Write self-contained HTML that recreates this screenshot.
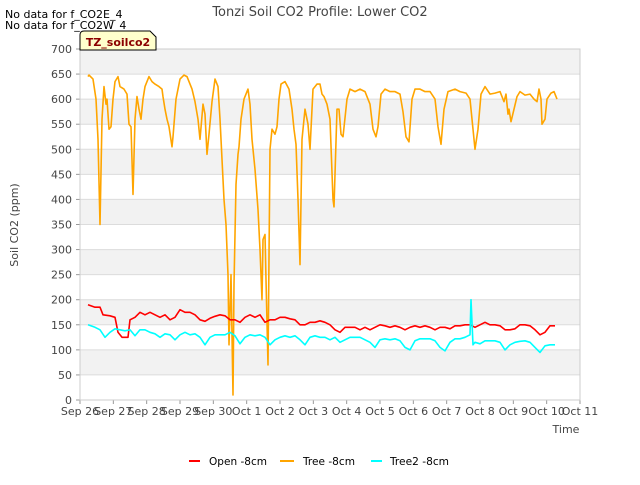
<!DOCTYPE html>
<html><head><meta charset="utf-8"><style>
body{margin:0;background:#fff;font-family:"Liberation Sans","DejaVu Sans",sans-serif}
svg text{font-family:"DejaVu Sans","Liberation Sans",sans-serif}
</style></head><body>
<svg id="c" width="640" height="480" xmlns="http://www.w3.org/2000/svg">
<text x="320" y="16" text-anchor="middle" font-size="13" fill="#444">Tonzi Soil CO2 Profile: Lower CO2</text>
<text x="5" y="18" font-size="11" fill="#000">No data for f_CO2E_4</text>
<text x="5" y="29" font-size="11" fill="#000">No data for f_CO2W_4</text>
<g id="plot"></g>
<g><path d="M80,50 L80,35 Q80,31 84,31 L150,31 L156,37 L156,50 Z" fill="#ffffcc" stroke="#000" stroke-width="1"/><text x="118" y="46" text-anchor="middle" font-size="11" font-weight="bold" fill="#8b0000">TZ_soilco2</text></g>
<text x="18" y="225" transform="rotate(-90 18 225)" text-anchor="middle" font-size="11" fill="#444">Soil CO2 (ppm)</text>
<text x="566" y="433" text-anchor="middle" font-size="11" fill="#444">Time</text>
<g>
<g><line x1="189" y1="461" x2="200" y2="461" stroke="#ff0000" stroke-width="2"/><text x="209" y="465" font-size="11" fill="#000" textLength="58" lengthAdjust="spacingAndGlyphs">Open -8cm</text></g>
<g><line x1="280" y1="461" x2="294" y2="461" stroke="#ffa500" stroke-width="2"/><text x="303" y="465" font-size="11" fill="#000" textLength="52" lengthAdjust="spacingAndGlyphs">Tree -8cm</text></g>
<g><line x1="371" y1="461" x2="382" y2="461" stroke="#00ffff" stroke-width="2"/><text x="390" y="465" font-size="11" fill="#000" textLength="59" lengthAdjust="spacingAndGlyphs">Tree2 -8cm</text></g>
</g>
</svg>
<script>
const xTickLabels=["Sep 26","Sep 27","Sep 28","Sep 29","Sep 30","Oct 1","Oct 2","Oct 3","Oct 4","Oct 5","Oct 6","Oct 7","Oct 8","Oct 9","Oct 10","Oct 11"];
const yTicks=[0,50,100,150,200,250,300,350,400,450,500,550,600,650,700];
const treeData=[[0.24,645],[0.27,648],[0.39,640],[0.48,600],[0.54,520],[0.60,350],[0.66,560],[0.72,625],[0.78,590],[0.81,600],[0.87,540],[0.93,545],[0.99,600],[1.05,635],[1.14,645],[1.2,625],[1.32,620],[1.41,610],[1.47,550],[1.53,545],[1.59,410],[1.65,560],[1.71,605],[1.77,580],[1.83,560],[1.89,600],[1.95,625],[2.07,645],[2.16,635],[2.25,630],[2.37,625],[2.46,620],[2.49,605],[2.55,580],[2.61,560],[2.67,545],[2.76,505],[2.79,525],[2.88,600],[3.0,640],[3.12,648],[3.21,645],[3.3,630],[3.36,620],[3.45,595],[3.54,560],[3.6,520],[3.69,590],[3.75,570],[3.81,490],[3.87,530],[3.96,595],[4.05,640],[4.14,625],[4.2,560],[4.26,480],[4.32,400],[4.38,350],[4.44,250],[4.47,110],[4.53,250],[4.59,10],[4.62,230],[4.68,430],[4.74,490],[4.77,505],[4.83,560],[4.92,600],[5.04,620],[5.1,590],[5.16,520],[5.25,460],[5.34,380],[5.4,300],[5.46,200],[5.49,320],[5.55,330],[5.58,240],[5.64,70],[5.7,500],[5.76,540],[5.85,530],[5.91,545],[5.97,600],[6.03,630],[6.15,635],[6.27,620],[6.36,580],[6.42,540],[6.48,510],[6.54,400],[6.6,270],[6.66,520],[6.75,580],[6.84,550],[6.9,500],[6.99,620],[7.11,630],[7.2,630],[7.26,610],[7.32,605],[7.41,590],[7.5,560],[7.59,400],[7.62,385],[7.71,580],[7.77,580],[7.83,530],[7.89,525],[8.01,600],[8.1,620],[8.25,615],[8.4,620],[8.55,615],[8.7,590],[8.79,540],[8.88,525],[8.94,545],[9.03,610],[9.15,620],[9.3,615],[9.45,615],[9.6,610],[9.69,575],[9.78,525],[9.87,515],[9.96,600],[10.05,620],[10.2,620],[10.35,615],[10.5,615],[10.65,600],[10.74,545],[10.83,510],[10.92,580],[11.04,615],[11.25,620],[11.4,615],[11.58,612],[11.7,600],[11.79,540],[11.85,500],[11.94,540],[12.03,610],[12.15,625],[12.3,610],[12.45,612],[12.6,615],[12.72,595],[12.78,610],[12.84,570],[12.87,580],[12.93,555],[13.02,580],[13.11,605],[13.2,615],[13.35,608],[13.5,610],[13.62,600],[13.71,595],[13.77,620],[13.83,600],[13.86,550],[13.95,560],[14.01,600],[14.13,612],[14.22,615],[14.31,600]];
const openData=[[0.24,190],[0.45,185],[0.6,185],[0.69,170],[0.9,168],[1.05,165],[1.14,135],[1.26,125],[1.44,125],[1.5,160],[1.65,165],[1.8,175],[1.95,170],[2.1,175],[2.25,170],[2.4,165],[2.55,170],[2.7,160],[2.85,165],[3.0,180],[3.15,175],[3.3,175],[3.45,170],[3.6,160],[3.75,157],[3.9,163],[4.05,167],[4.2,170],[4.35,168],[4.5,160],[4.65,160],[4.8,155],[4.95,165],[5.1,170],[5.25,165],[5.4,170],[5.55,155],[5.7,160],[5.85,160],[6.0,165],[6.15,165],[6.3,162],[6.45,160],[6.6,150],[6.75,150],[6.9,155],[7.05,155],[7.2,158],[7.35,155],[7.5,150],[7.65,140],[7.8,135],[7.95,145],[8.1,145],[8.25,145],[8.4,140],[8.55,145],[8.7,140],[8.85,145],[9.0,150],[9.15,148],[9.3,145],[9.45,148],[9.6,145],[9.75,140],[9.9,145],[10.05,148],[10.2,145],[10.35,148],[10.5,145],[10.65,140],[10.8,145],[10.95,145],[11.1,142],[11.25,148],[11.4,148],[11.55,150],[11.7,150],[11.85,145],[12.0,150],[12.15,155],[12.3,150],[12.45,150],[12.6,148],[12.75,140],[12.9,140],[13.05,142],[13.2,150],[13.35,150],[13.5,148],[13.65,140],[13.8,130],[13.95,135],[14.1,148],[14.25,148]];
const tree2Data=[[0.24,150],[0.45,145],[0.6,140],[0.75,125],[0.9,135],[1.05,142],[1.2,140],[1.35,138],[1.5,140],[1.65,128],[1.8,140],[1.95,140],[2.1,135],[2.25,132],[2.4,125],[2.55,132],[2.7,130],[2.85,120],[3.0,130],[3.15,135],[3.3,130],[3.45,132],[3.6,125],[3.75,110],[3.9,125],[4.05,130],[4.2,130],[4.35,130],[4.5,135],[4.65,128],[4.8,112],[4.95,125],[5.1,130],[5.25,128],[5.4,130],[5.55,125],[5.7,110],[5.85,120],[6.0,125],[6.15,128],[6.3,125],[6.45,128],[6.6,120],[6.75,110],[6.9,125],[7.05,128],[7.2,125],[7.35,125],[7.5,120],[7.65,125],[7.8,115],[7.95,120],[8.1,125],[8.25,125],[8.4,125],[8.55,120],[8.7,115],[8.85,105],[9.0,120],[9.15,122],[9.3,120],[9.45,122],[9.6,118],[9.75,105],[9.9,100],[10.05,118],[10.2,122],[10.35,122],[10.5,122],[10.65,118],[10.8,105],[10.95,98],[11.1,115],[11.25,122],[11.4,122],[11.55,125],[11.7,130],[11.73,200],[11.79,110],[11.85,115],[12.0,112],[12.15,118],[12.3,118],[12.45,118],[12.6,115],[12.75,100],[12.9,110],[13.05,115],[13.2,117],[13.35,118],[13.5,115],[13.65,105],[13.8,95],[13.95,108],[14.1,110],[14.25,110]];
const L=80,R=580,T=49,B=400,D0=0,D1=15,V0=0,V1=700;
const sx=d=>L+(d-D0)/(D1-D0)*(R-L);
const sy=v=>B-(v-V0)/(V1-V0)*(B-T);
const NS="http://www.w3.org/2000/svg",g=document.getElementById('plot');
function mk(t,a){const e=document.createElementNS(NS,t);for(const k in a)e.setAttribute(k,a[k]);g.appendChild(e);return e;}
const bg=mk('rect',{x:L,y:T,width:R-L,height:B-T,fill:'#fff'});


for(let i=0;i<yTicks.length-1;i++){if(i%2===1){const b=mk('rect',{x:L,y:sy(yTicks[i+1]),width:R-L,height:sy(yTicks[i])-sy(yTicks[i+1]),fill:'#f2f2f2'});

}}
yTicks.forEach(v=>{const l=mk('line',{x1:L,x2:R,y1:sy(v),y2:sy(v),stroke:'#dcdcdc','stroke-width':1});


const t=mk('text',{x:L-8,y:sy(v)+4,'text-anchor':'end','font-size':11,fill:'#444'});t.textContent=v;


const tk=mk('line',{x1:L-4,x2:L,y1:sy(v),y2:sy(v),stroke:'#999'});

});
xTickLabels.forEach((s,i)=>{const t=mk('text',{x:sx(i),y:415,'text-anchor':'middle','font-size':11,fill:'#444'});t.textContent=s;


const tk=mk('line',{x1:sx(i),x2:sx(i),y1:B,y2:B+4,stroke:'#999'});

});
const fr=mk('rect',{x:L,y:T,width:R-L,height:B-T,fill:'none',stroke:'#ccc'});


function series(d,c,n){const p=mk('polyline',{points:d.map(q=>sx(q[0]).toFixed(1)+','+sy(q[1]).toFixed(1)).join(' '),fill:'none',stroke:c,'stroke-width':1.6,'stroke-linejoin':'round'});

}
series(treeData,'#ffa500','tree-8cm-line');
series(openData,'#ff0000','open-8cm-line');
series(tree2Data,'#00ffff','tree2-8cm-line');
</script>
</body></html>
